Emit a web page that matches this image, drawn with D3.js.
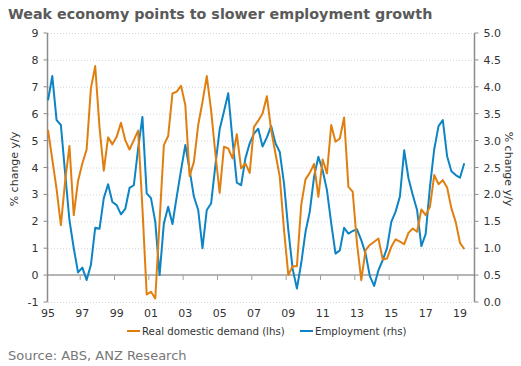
<!DOCTYPE html>
<html>
<head>
<meta charset="utf-8">
<script src="https://cdn.jsdelivr.net/npm/d3@7"></script>
<style>
  body { margin: 0; background: #fff; }
  svg text { font-family: "DejaVu Sans", Verdana, sans-serif; }
</style>
</head>
<body>
<script>
// quarterly, 1995 Q1 .. 2019 Q2
var demand = [5.4, 4.3, 3.2, 1.86, 3.5, 4.8, 2.23, 3.5, 4.15, 4.67,
  6.94, 7.77, 5.5, 3.88, 5.12, 4.86, 5.14, 5.66, 5.02, 4.67,
  5.02, 5.37, 2.5, -0.72, -0.62, -0.87, 2.0, 4.83, 5.17, 6.75,
  6.82, 7.04, 6.32, 3.68, 4.21, 5.58, 6.44, 7.4, 6.13, 4.52,
  3.06, 4.77, 4.71, 4.34, 5.24, 3.97, 4.15, 3.8, 5.51, 5.74,
  6.01, 6.65, 5.39, 4.52, 3.66, 1.67, 0.0, 0.33, 0.33, 2.6,
  3.56, 3.8, 4.13, 2.91, 4.3, 3.78, 5.58, 4.96, 5.08, 5.86,
  3.28, 3.1, 1.18, -0.19, 0.93, 1.12, 1.24, 1.36, 0.58, 0.62,
  1.05, 1.33, 1.24, 1.15, 1.57, 1.73, 1.61, 2.44, 2.23, 2.54,
  3.72, 3.38, 3.53, 3.26, 2.48, 1.98, 1.2, 0.97];

var employment = [3.75, 4.2, 3.38, 3.29, 2.39, 1.52, 1.0, 0.55, 0.64, 0.41,
  0.69, 1.38, 1.36, 1.93, 2.19, 1.86, 1.8, 1.63, 1.73, 2.12,
  2.17, 2.85, 3.44, 2.02, 1.93, 1.49, 0.5, 1.46, 1.77, 1.45,
  1.96, 2.45, 2.92, 2.45, 1.96, 1.71, 1.0, 1.71, 1.83, 2.54,
  3.21, 3.54, 3.88, 3.01, 2.22, 2.17, 2.67, 2.95, 3.13, 3.22,
  2.89, 3.06, 3.27, 2.95, 2.79, 2.2, 1.34, 0.62, 0.25, 0.72,
  1.3, 1.68, 2.33, 2.7, 2.45, 2.08, 1.46, 0.9, 0.96, 1.38,
  1.27, 1.32, 1.35, 1.15, 0.9, 0.48, 0.3, 0.59, 0.78, 1.0,
  1.49, 1.68, 1.96, 2.82, 2.3, 1.99, 1.71, 1.04, 1.26, 2.14,
  2.84, 3.27, 3.38, 2.71, 2.43, 2.36, 2.31, 2.58];

var yearLabels = ["95", "97", "99", "01", "03", "05", "07", "09", "11", "13", "15", "17", "19"];
var leftTicks = [-1, 0, 1, 2, 3, 4, 5, 6, 7, 8, 9];
var rightTicks = [0, 0.5, 1, 1.5, 2, 2.5, 3, 3.5, 4, 4.5, 5];
var seriesNames = ["Real domestic demand (lhs)", "Employment (rhs)"];

var W = 521, H = 366;
var orange = "#e07f10", blue = "#0d84c4";

var svg = d3.select("body").append("svg")
  .attr("width", W).attr("height", H);

var x = d3.scaleLinear().domain([0, 99.5]).range([48, 475]);
var yL = d3.scaleLinear().domain([-1, 9]).range([302, 33]);
var yR = d3.scaleLinear().domain([0, 5]).range([302, 33]);

// title
svg.append("text")
  .attr("x", 8).attr("y", 19)
  .attr("font-size", 14.3).attr("font-weight", "bold")
  .attr("fill", "#5a5a5a")
  .text("Weak economy points to slower employment growth");

// gridlines
svg.append("g").selectAll("line")
  .data(leftTicks.filter(function(d) { return d !== 0; }))
  .enter().append("line")
  .attr("x1", 48).attr("x2", 474.5)
  .attr("y1", function(d) { return yL(d) + 0.5; })
  .attr("y2", function(d) { return yL(d) + 0.5; })
  .attr("stroke", "#cdd6dd").attr("stroke-dasharray", "1,2");

// zero line
svg.append("line")
  .attr("x1", 48).attr("x2", 474.5)
  .attr("y1", yL(0)).attr("y2", yL(0))
  .attr("stroke", "#b5b5b5").attr("stroke-width", 2);

// x ticks on the zero line, between categories
svg.append("g").selectAll("line")
  .data(yearLabels.slice(1))
  .enter().append("line")
  .attr("x1", function(d, i) { return x((i + 1) * 8 - 0.5); })
  .attr("x2", function(d, i) { return x((i + 1) * 8 - 0.5); })
  .attr("y1", yL(0)).attr("y2", yL(0) + 5)
  .attr("stroke", "#a0a0a0").attr("stroke-width", 1);

// x labels
svg.append("g").selectAll("text")
  .data(yearLabels)
  .enter().append("text")
  .attr("x", function(d, i) { return x(i * 8); })
  .attr("y", 317)
  .attr("text-anchor", "middle")
  .attr("font-size", 11).attr("fill", "#333")
  .text(function(d) { return d; });

// left axis
var gl = svg.append("g").attr("transform", "translate(47.5,0)");
gl.append("line").attr("y1", 33).attr("y2", 302)
  .attr("stroke", "#8c8c8c").attr("stroke-width", 1.5);
gl.selectAll(".t").data(leftTicks).enter().append("line")
  .attr("x1", -4).attr("x2", 0)
  .attr("y1", function(d) { return yL(d); })
  .attr("y2", function(d) { return yL(d); })
  .attr("stroke", "#8c8c8c");
gl.selectAll("text").data(leftTicks).enter().append("text")
  .attr("x", -9).attr("y", function(d) { return yL(d) + 4; })
  .attr("text-anchor", "end")
  .attr("font-size", 11).attr("fill", "#333")
  .text(function(d) { return d; });

// right axis
var gr = svg.append("g").attr("transform", "translate(474.5,0)");
gr.append("line").attr("y1", 33).attr("y2", 302)
  .attr("stroke", "#8c8c8c").attr("stroke-width", 1.5);
gr.selectAll(".t").data(rightTicks).enter().append("line")
  .attr("x1", 0).attr("x2", 4)
  .attr("y1", function(d) { return yR(d); })
  .attr("y2", function(d) { return yR(d); })
  .attr("stroke", "#8c8c8c");
gr.selectAll("text").data(rightTicks).enter().append("text")
  .attr("x", 9).attr("y", function(d) { return yR(d) + 4; })
  .attr("font-size", 11).attr("fill", "#333")
  .text(function(d) { return d3.format(".1f")(d); });

// axis titles
svg.append("text")
  .attr("transform", "translate(18,169) rotate(-90)")
  .attr("text-anchor", "middle")
  .attr("font-size", 11).attr("fill", "#333")
  .text("% change y/y");
svg.append("text")
  .attr("transform", "translate(505,169) rotate(90)")
  .attr("text-anchor", "middle")
  .attr("font-size", 11).attr("fill", "#333")
  .text("% change y/y");

// lines
var lineL = d3.line()
  .x(function(d, i) { return x(i); })
  .y(function(d) { return yL(d); });
var lineR = d3.line()
  .x(function(d, i) { return x(i); })
  .y(function(d) { return yR(d); });

svg.append("path").datum(employment)
  .attr("d", lineR)
  .attr("fill", "none").attr("stroke", blue).attr("stroke-width", 2)
  .attr("stroke-linejoin", "round");
svg.append("path").datum(demand)
  .attr("d", lineL)
  .attr("fill", "none").attr("stroke", orange).attr("stroke-width", 2)
  .attr("stroke-linejoin", "round");

// legend
var legend = svg.append("g");
var legX = [127, 300];
var legColors = [orange, blue];
seriesNames.forEach(function(name, i) {
  legend.append("line")
    .attr("x1", legX[i]).attr("x2", legX[i] + 13)
    .attr("y1", 331).attr("y2", 331)
    .attr("stroke", legColors[i]).attr("stroke-width", 2);
  legend.append("text")
    .attr("x", legX[i] + 15).attr("y", 335)
    .attr("font-size", 10.2).attr("fill", "#333")
    .text(name);
});

// source
svg.append("text")
  .attr("x", 8).attr("y", 360)
  .attr("font-size", 13).attr("fill", "#777")
  .text("Source: ABS, ANZ Research");
</script>
</body>
</html>
